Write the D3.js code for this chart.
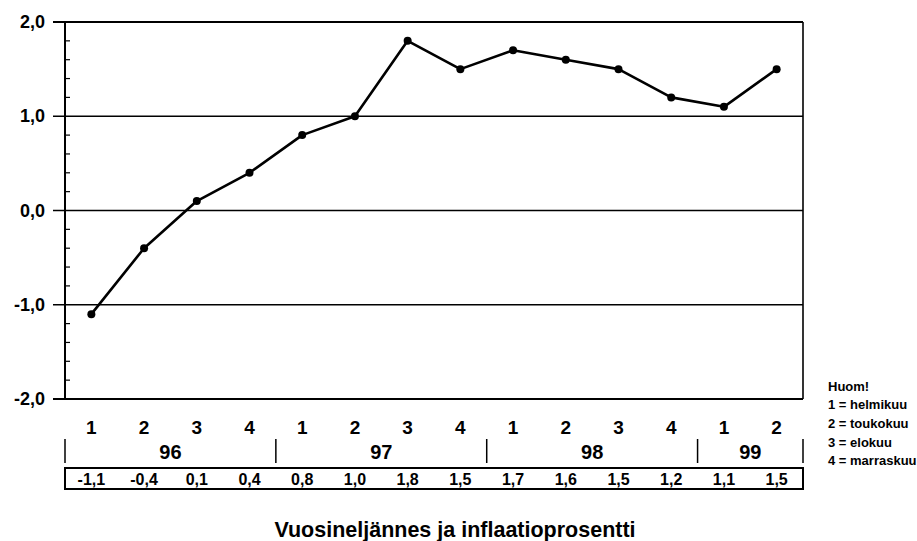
<!DOCTYPE html>
<html>
<head>
<meta charset="utf-8">
<script src="https://cdn.jsdelivr.net/npm/d3@7"></script>
<style>
  html, body { margin: 0; padding: 0; background: #fff; }
  svg { display: block; }
  text { font-family: "Liberation Sans", Arial, sans-serif; fill: #000; font-weight: bold; }
</style>
</head>
<body>
<svg id="chart" width="917" height="541"></svg>
<script>
// ---- data ----
const quarters = ["1","2","3","4","1","2","3","4","1","2","3","4","1","2"];
const years = ["96","97","98","99"];
const yearQuarterCounts = [4, 4, 4, 2];
const inflation = [-1.1, -0.4, 0.1, 0.4, 0.8, 1.0, 1.8, 1.5, 1.7, 1.6, 1.5, 1.2, 1.1, 1.5];
const yTicks = [-2, -1, 0, 1, 2];
const yMinorTicks = d3.range(-20, 21, 2).map(v => v / 10);
const legendLines = ["Huom!", "1 = helmikuu", "2 = toukokuu", "3 = elokuu", "4 = marraskuu"];
const xTitle = "Vuosineljännes ja inflaatioprosentti";

const fmt = v => v.toFixed(1).replace(".", ",");

// ---- layout ----
const L = 65, R = 803, T = 22, B = 399;
const svg = d3.select("#chart");

const x = d3.scaleBand().domain(d3.range(inflation.length)).range([L, R]).paddingInner(0).paddingOuter(0);
const y = d3.scaleLinear().domain([-2, 2]).range([B, T]);
const cx = i => x(i) + x.bandwidth() / 2;

// gridlines at major ticks (extend outward as tick marks)
svg.append("g").selectAll("line").data(yTicks).join("line")
  .attr("x1", L - 12).attr("x2", R)
  .attr("y1", d => y(d)).attr("y2", d => y(d))
  .attr("stroke", "#000").attr("stroke-width", d => (d === -2 || d === 2) ? 2 : 1.4);

// minor ticks inside on left axis
svg.append("g").selectAll("line").data(yMinorTicks.filter(v => Math.abs(Math.round(v * 10) % 10) > 0)).join("line")
  .attr("x1", L).attr("x2", L + 5)
  .attr("y1", d => y(d)).attr("y2", d => y(d))
  .attr("stroke", "#000").attr("stroke-width", 1.2);

// left axis line and right border
svg.append("line").attr("x1", L).attr("x2", L).attr("y1", T).attr("y2", B)
  .attr("stroke", "#000").attr("stroke-width", 2);
svg.append("line").attr("x1", R).attr("x2", R).attr("y1", T).attr("y2", B)
  .attr("stroke", "#000").attr("stroke-width", 1.6);

// y labels
svg.append("g").selectAll("text").data(yTicks).join("text")
  .attr("x", L - 20).attr("y", d => y(d))
  .attr("text-anchor", "end").attr("dominant-baseline", "central")
  .attr("font-size", 18)
  .text(d => fmt(d));

// line + points
const line = d3.line().x((d, i) => cx(i)).y(d => y(d));
svg.append("path").datum(inflation).attr("d", line)
  .attr("fill", "none").attr("stroke", "#000").attr("stroke-width", 2.6).attr("stroke-linejoin", "round");
svg.append("g").selectAll("circle").data(inflation).join("circle")
  .attr("cx", (d, i) => cx(i)).attr("cy", d => y(d)).attr("r", 4).attr("fill", "#000");

// quarter labels
svg.append("g").selectAll("text").data(quarters).join("text")
  .attr("x", (d, i) => cx(i)).attr("y", 427)
  .attr("text-anchor", "middle").attr("dominant-baseline", "central")
  .attr("font-size", 19)
  .text(d => d);

// year row
let start = 0;
const yearSpans = years.map((yr, k) => {
  const s = start; start += yearQuarterCounts[k];
  return { yr, x0: x(s), x1: x(start - 1) + x.bandwidth() };
});
const sepX = [yearSpans[0].x0].concat(yearSpans.map(d => d.x1));
svg.append("g").selectAll("line").data(sepX).join("line")
  .attr("x1", d => d).attr("x2", d => d).attr("y1", 439).attr("y2", 463)
  .attr("stroke", "#000").attr("stroke-width", 1.5);
svg.append("g").selectAll("text").data(yearSpans).join("text")
  .attr("x", d => (d.x0 + d.x1) / 2).attr("y", 452)
  .attr("text-anchor", "middle").attr("dominant-baseline", "central")
  .attr("font-size", 20)
  .text(d => d.yr);

// value box
svg.append("rect").attr("x", L).attr("y", 468).attr("width", R - L).attr("height", 21)
  .attr("fill", "none").attr("stroke", "#000").attr("stroke-width", 2);
svg.append("g").selectAll("text").data(inflation).join("text")
  .attr("x", (d, i) => cx(i)).attr("y", 479)
  .attr("text-anchor", "middle").attr("dominant-baseline", "central")
  .attr("font-size", 16)
  .text(d => fmt(d));

// legend
svg.append("g").selectAll("text").data(legendLines).join("text")
  .attr("x", 828).attr("y", (d, i) => 386 + i * 18.7)
  .attr("dominant-baseline", "central")
  .attr("font-size", 13)
  .text(d => d);

// x title
svg.append("text").attr("x", 455).attr("y", 530)
  .attr("text-anchor", "middle").attr("dominant-baseline", "central")
  .attr("font-size", 21.5)
  .text(xTitle);
</script>
</body>
</html>
